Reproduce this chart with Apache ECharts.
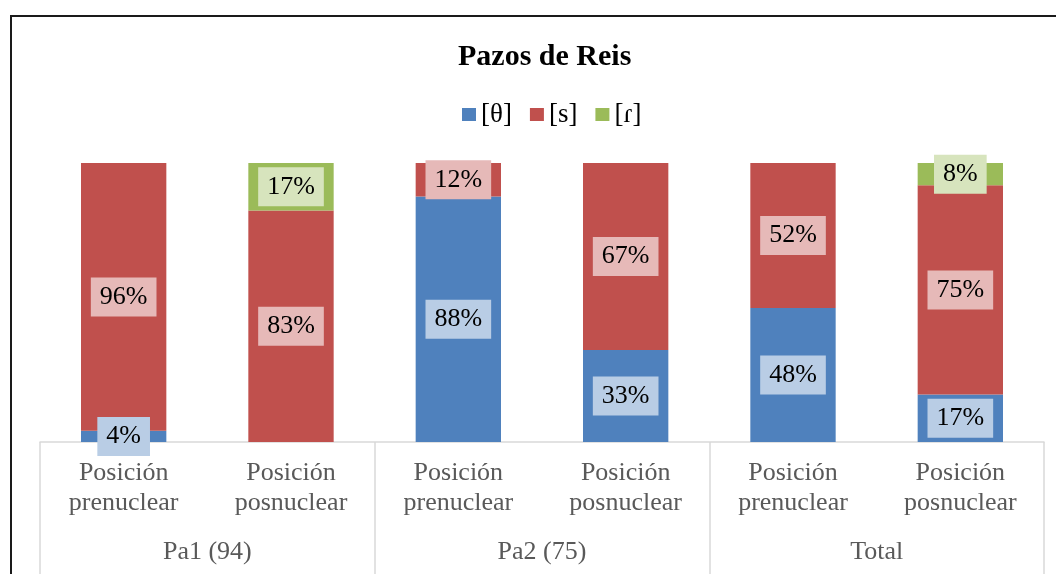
<!DOCTYPE html>
<html>
<head>
<meta charset="utf-8">
<script src="https://cdn.jsdelivr.net/npm/echarts@6/dist/echarts.min.js"></script>
<style>
  html, body { margin: 0; padding: 0; background: #fff; }
  #chart { width: 1056px; height: 574px; }
</style>
</head>
<body>
<div id="chart"></div>
<script>
// categories
const positions = ['Posición\nprenuclear', 'Posición\nposnuclear', 'Posición\nprenuclear', 'Posición\nposnuclear', 'Posición\nprenuclear', 'Posición\nposnuclear']
const groups = ['Pa1 (94)', 'Pa2 (75)', 'Total']
const seriesNames = ['[θ]', '[s]', '[ɾ]']
// values in %
const theta = [4, 0, 88, 33, 48, 17]
const s = [96, 83, 12, 67, 52, 75]
const rr = [0, 17, 0, 0, 0, 8]

const colors = ['#4f81bd', '#c0504d', '#9bbb59']
const labelBg = ['#b9cde5', '#e6b9b8', '#d7e4bd']
const serif = '"Liberation Serif", "Times New Roman", serif'

function makeSeries(name, data, i) {
  return {
    name: name,
    type: 'bar',
    stack: 'total',
    barWidth: '51%',
    itemStyle: { color: colors[i] },
    label: {
      show: true,
      position: 'inside',
      formatter: '{c}%',
      color: '#000',
      fontFamily: serif,
      fontSize: 26,
      lineHeight: 26,
      backgroundColor: labelBg[i],
      padding: [7, 9, 6, 9]
    },
    data: data.map(v => v === 0 ? { value: 0, label: { show: false } } : v)
  }
}

const chart = echarts.init(document.getElementById('chart'))
chart.setOption({
  animation: false,
  title: {
    text: 'Pazos de Reis',
    left: 453,
    top: 37,
    textStyle: { fontFamily: serif, fontWeight: 'bold', fontSize: 30, color: '#000' }
  },
  legend: {
    top: 96,
    left: 457,
    icon: 'rect',
    itemWidth: 14,
    itemHeight: 13,
    itemGap: 18,
    textStyle: { fontFamily: serif, fontSize: 27, color: '#000' },
    data: seriesNames
  },
  graphic: [{
    type: 'rect',
    shape: { x: 11, y: 16, width: 1100, height: 700 },
    style: { fill: 'none', stroke: '#1a1a1a', lineWidth: 2 },
    silent: true
  }],
  grid: { left: 40, right: 12, top: 163, bottom: 132 },
  xAxis: [{
    type: 'category',
    data: positions,
    axisLine: { lineStyle: { color: '#d9d9d9', width: 1.5 } },
    axisTick: { show: false },
    axisLabel: {
      interval: 0,
      margin: 16,
      color: '#595959',
      fontFamily: serif,
      fontSize: 26,
      lineHeight: 30
    }
  }, {
    type: 'category',
    position: 'bottom',
    data: groups,
    axisLine: { show: false },
    axisTick: { show: true, interval: 0, length: 140, lineStyle: { color: '#d9d9d9', width: 1.5 } },
    axisLabel: {
      interval: 0,
      margin: 97,
      color: '#595959',
      fontFamily: serif,
      fontSize: 26
    }
  }],
  yAxis: { type: 'value', min: 0, max: 100, show: false },
  series: [
    makeSeries(seriesNames[0], theta, 0),
    makeSeries(seriesNames[1], s, 1),
    makeSeries(seriesNames[2], rr, 2)
  ]
})
</script>
</body>
</html>
